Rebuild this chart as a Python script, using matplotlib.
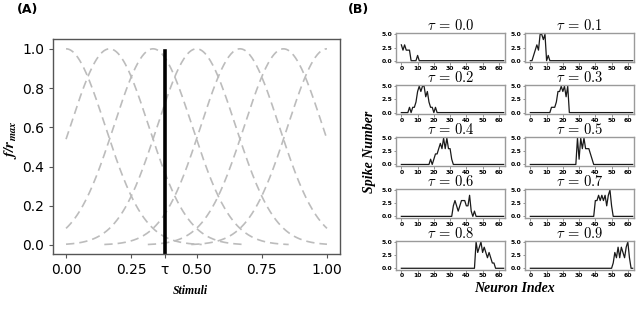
import numpy as np
import matplotlib
matplotlib.use("Agg")
import matplotlib.pyplot as plt

# ---------------- data ----------------
# Panel A: tuning curves (Gaussian shape, centres and width)
centers = [0.0, 1/6, 2/6, 3/6, 4/6, 5/6, 1.0]
sigma = 0.15
half_span = 0.52
tau_value = 0.378
xticks_a = [0.0, 0.25, tau_value, 0.5, 0.75, 1.0]
xticklabels_a = ["0.00", "0.25", "τ", "0.50", "0.75", "1.00"]

# Panel B: spike numbers per neuron (64 neurons) for each tau
n_neurons = 64
tau_labels = ["0.0", "0.1", "0.2", "0.3", "0.4", "0.5", "0.6", "0.7", "0.8", "0.9"]
spikes_nonzero = {
    "0.0": {0: 3, 1: 2, 2: 3, 3: 2, 4: 2, 5: 2, 10: 1},
    "0.1": {2: 1, 3: 2, 4: 3, 5: 2, 6: 5, 7: 5, 8: 4, 9: 5, 11: 1},
    "0.2": {5: 1, 7: 1, 8: 1, 9: 2, 10: 4, 11: 5, 12: 4, 13: 5, 14: 5, 15: 3,
            16: 4, 17: 2, 18: 1, 19: 1, 21: 1},
    "0.3": {13: 1, 14: 1, 15: 1, 16: 2, 17: 4, 18: 4, 19: 5, 20: 4, 21: 5,
            22: 3, 23: 5},
    "0.4": {18: 1, 20: 1, 21: 2, 22: 2, 23: 3, 24: 4, 25: 3, 26: 5, 27: 3,
            28: 5, 29: 3, 30: 3, 31: 1},
    "0.5": {29: 5, 30: 1, 31: 5, 32: 3, 33: 5, 34: 3, 35: 3, 36: 3, 37: 2, 38: 1},
    "0.6": {32: 2, 33: 3, 34: 2, 35: 1, 36: 2, 37: 3, 38: 3, 39: 3, 40: 2,
            41: 2, 42: 4, 43: 1, 45: 1},
    "0.7": {40: 3, 41: 3, 42: 4, 43: 3, 44: 4, 45: 3, 46: 4, 47: 2, 48: 4,
            49: 5, 50: 2},
    "0.8": {46: 5, 47: 3, 48: 4, 49: 5, 50: 3, 51: 4, 52: 3, 53: 2, 54: 3,
            55: 2, 56: 1, 57: 1},
    "0.9": {51: 1, 52: 3, 53: 2, 54: 4, 55: 2, 56: 4, 57: 3, 58: 2, 59: 4,
            60: 5, 61: 2},
}

# ---------------- figure ----------------
W, H = 640, 314
fig = plt.figure(figsize=(W / 100, H / 100), dpi=100)

def px_axes(x0, y0, x1, y1):
    return fig.add_axes([x0 / W, 1 - y1 / H, (x1 - x0) / W, (y1 - y0) / H])

serif = ["Liberation Serif", "DejaVu Serif"]

# ---- Panel A ----
axA = px_axes(53, 39, 340, 254)
for c in centers:
    x = np.linspace(max(0.0, c - half_span), min(1.0, c + half_span), 200)
    y = np.exp(-(x - c) ** 2 / (2 * sigma ** 2))
    axA.plot(x, y, ls=(0, (5, 3)), color="#bcbcbc", lw=1.2)
axA.set_xlim(-0.05, 1.05)
axA.set_ylim(-0.046, 1.05)
axA.axvline(tau_value, ymin=0, ymax=(0.99 + 0.046) / 1.096, color="black", lw=2.6)
axA.set_xticks(xticks_a)
axA.set_xticklabels(xticklabels_a)
axA.set_yticks([0.0, 0.2, 0.4, 0.6, 0.8, 1.0])
axA.tick_params(labelsize=10, length=3, color="#555555")
for s in axA.spines.values():
    s.set_color("#555555")
    s.set_linewidth(1.0)
axA.set_xlabel("Stimuli", family=serif, style="italic", weight="bold",
               fontsize=8.5)
axA.xaxis.set_label_coords((190 - 53) / 287, -(285 - 254) / 215)
axA.set_ylabel(r"$\mathbfit{f/r_{max}}$", fontsize=11, math_fontfamily="stix")
axA.yaxis.set_label_coords(-(53 - 19) / 287, (254 - 140) / 215)

# ---- Panel B ----
col_x = [(396, 505), (525, 634)]
row_top0 = 33
row_step = 51.9
row_h = 29
for i, lab in enumerate(tau_labels):
    r, c = divmod(i, 2)
    y0 = row_top0 + r * row_step
    ax = px_axes(col_x[c][0], y0, col_x[c][1], y0 + row_h)
    vals = np.zeros(n_neurons)
    for k, v in spikes_nonzero[lab].items():
        vals[k] = v
    ax.plot(np.arange(n_neurons), vals, color="#1a1a1a", lw=0.9)
    ax.set_xlim(-3.3, 63.8)
    ax.set_ylim(-0.25, 5.25)
    ax.set_xticks([0, 10, 20, 30, 40, 50, 60])
    ax.set_yticks([0.0, 2.5, 5.0])
    ax.tick_params(labelsize=4.4, length=1.8, width=0.5, pad=1.0, color="#666666")
    for t in ax.get_xticklabels() + ax.get_yticklabels():
        t.set_fontweight("bold")
    for s in ax.spines.values():
        s.set_color("#9a9a9a")
        s.set_linewidth(1.0)
    ax.set_title(r"$\tau\, =\, %s$" % lab, fontsize=10.5, math_fontfamily="cm",
                 pad=0.8)

fig.text(370 / W, 1 - 152 / H, "Spike Number", rotation=90, ha="center",
         va="center", family=serif, style="italic", weight="bold", fontsize=10)
fig.text(514 / W, 1 - 289 / H, "Neuron Index", ha="center", va="center",
         family=serif, style="italic", weight="bold", fontsize=10)

fig.text(17 / W, 1 - 9 / H, "(A)", ha="left", va="center", weight="bold", fontsize=9)
fig.text(348 / W, 1 - 9 / H, "(B)", ha="left", va="center", weight="bold", fontsize=9)

fig.savefig("out.png", dpi=100)
